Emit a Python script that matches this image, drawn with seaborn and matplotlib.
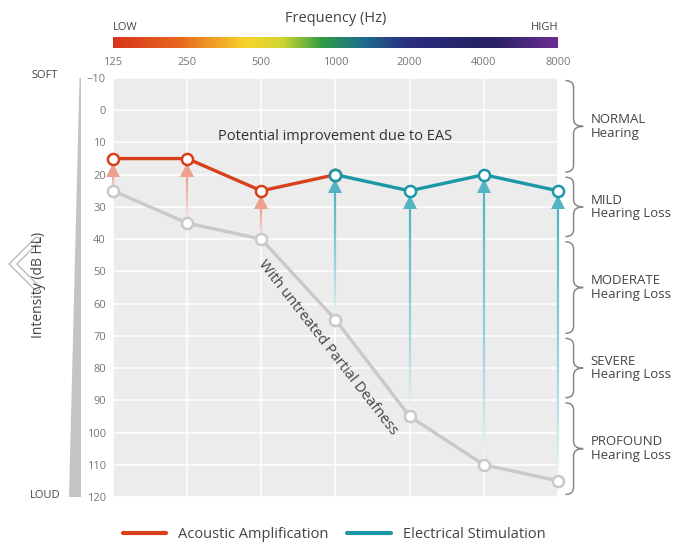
import numpy as np
import pandas as pd
import matplotlib
matplotlib.use("Agg")
import matplotlib.pyplot as plt
import seaborn as sns
from matplotlib.colors import LinearSegmentedColormap
from matplotlib.collections import LineCollection
from matplotlib.path import Path
from matplotlib.patches import PathPatch, Polygon
from matplotlib.lines import Line2D

# données de l'audiogramme
freqs = ["125", "250", "500", "1000", "2000", "4000", "8000"]
untreated = [25, 35, 40, 65, 95, 110, 115]
acoustic = [15, 15, 25, 20]          # 125 -> 1000
electric = [20, 25, 20, 25]          # 1000 -> 8000
y_ticks = list(range(-10, 121, 10))
bands = ["NORMAL\nHearing", "MILD\nHearing Loss", "MODERATE\nHearing Loss",
         "SEVERE\nHearing Loss", "PROFOUND\nHearing Loss"]
band_limits = [(-10, 20), (20, 40), (40, 70), (70, 90), (90, 120)]

RED = "#d8401c"
TEAL = "#1b97a8"
GREY = "#c9c9c9"
SALMON = "#eca08f"
LTEAL = "#52b5c3"

sns.set_theme(style="darkgrid", rc={"axes.facecolor": "#ececec",
                                    "grid.color": "white", "grid.linewidth": 1.1})
plt.rcParams["font.family"] = ["Open Sans", "DejaVu Sans"]

W, H = 674, 545
fig = plt.figure(figsize=(W / 100, H / 100), dpi=100)
ax = fig.add_axes([113 / W, 1 - 497 / H, 445 / W, 419 / H])

x_idx = np.arange(len(freqs))
df_un = pd.DataFrame({"x": x_idx, "db": untreated})
df_ac = pd.DataFrame({"x": x_idx[:4], "db": acoustic})
df_el = pd.DataFrame({"x": x_idx[3:], "db": electric})

mk = dict(marker="o", markersize=8, markerfacecolor="white", markeredgewidth=1.8,
          linewidth=2.4, clip_on=False)
sns.lineplot(data=df_un, x="x", y="db", ax=ax, color=GREY, markeredgecolor=GREY,
             zorder=3, **mk)

# flèches en dégradé
def grad_arrow(x, y0, y1, color):
    tip = y1 + 1.9
    base = tip + 3.0
    ys = np.linspace(y0, base, 40)
    segs = [[(x, ys[i]), (x, ys[i + 1])] for i in range(len(ys) - 1)]
    alphas = np.linspace(0.0, 1.0, len(segs)) ** 0.7
    cols = [matplotlib.colors.to_rgba(color, a) for a in alphas]
    ax.add_collection(LineCollection(segs, colors=cols, linewidths=1.6, zorder=2,
                                     clip_on=False))
    ax.plot([x], [tip + 1.7], marker="^", markersize=9.5, color=color,
            markeredgewidth=0, zorder=2, clip_on=False)

targets = acoustic[:3] + electric
for i in range(len(freqs)):
    grad_arrow(i, untreated[i], targets[i], SALMON if i < 3 else LTEAL)

sns.lineplot(data=df_el, x="x", y="db", ax=ax, color=TEAL, markeredgecolor=TEAL,
             zorder=4, **mk)
sns.lineplot(data=df_ac, x="x", y="db", ax=ax, color=RED, markeredgecolor=RED,
             zorder=5, **mk)
# le point 1000 Hz reste bleu
ax.plot([3], [acoustic[3]], marker="o", markersize=8, markerfacecolor="white",
        markeredgecolor=TEAL, markeredgewidth=1.8, zorder=6, clip_on=False)

ax.set_xlim(0, 6)
ax.set_ylim(120, -10)
ax.set_xticks(x_idx)
ax.set_xticklabels(freqs)
ax.set_yticks(y_ticks)
ax.xaxis.tick_top()
ax.tick_params(axis="both", length=0, labelsize=8, labelcolor="#777777")
ax.tick_params(axis="x", pad=7)
ax.tick_params(axis="y", pad=5)
ax.set_xlabel("")
ax.set_ylabel("")
for s in ax.spines.values():
    s.set_visible(False)

ax.text(3, 8.3, "Potential improvement due to EAS", ha="center", va="center",
        fontsize=10.5, color="#333333")
ax.text(2.89, 73.5, "With untreated Partial Deafness", ha="center", va="center",
        rotation=-52, fontsize=10.5, color="#444444", rotation_mode="anchor")

# accolades à droite
def brace(y1, y2):
    x0, x1, x2 = 6.1, 6.21, 6.34
    ym = (y1 + y2) / 2
    r = 2.2
    verts = [(x0, y1), (x1, y1), (x1, y1 + r),
             (x1, ym - r), (x1, ym), (x2, ym),
             (x1, ym), (x1, ym + r),
             (x1, y2 - r), (x1, y2), (x0, y2)]
    codes = [Path.MOVETO, Path.CURVE3, Path.CURVE3,
             Path.LINETO, Path.CURVE3, Path.CURVE3,
             Path.CURVE3, Path.CURVE3,
             Path.LINETO, Path.CURVE3, Path.CURVE3]
    ax.add_patch(PathPatch(Path(verts, codes), fill=False, edgecolor="#888888",
                           linewidth=1.1, clip_on=False))

for lab, (a, b) in zip(bands, band_limits):
    brace(a + 0.8, b - 0.8)
    ax.text(6.44, (a + b) / 2, lab, ha="left", va="center", fontsize=9.5,
            color="#444444", linespacing=1.05)

# barre de fréquences arc-en-ciel
cax = fig.add_axes([113 / W, 1 - 48 / H, 445 / W, 11 / H])
rainbow = LinearSegmentedColormap.from_list("freq", [
    (0.0, "#d9341c"), (0.15, "#e8681f"), (0.3, "#f7d42a"), (0.38, "#cfd531"),
    (0.47, "#2f9c45"), (0.56, "#1d6f8c"), (0.66, "#2a2f7f"), (0.85, "#262162"),
    (1.0, "#6b2d91")])
cax.imshow(np.linspace(0, 1, 256)[None, :], aspect="auto", cmap=rainbow)
cax.set_axis_off()

fig.text(336 / W, 1 - 18 / H, "Frequency (Hz)", ha="center", va="center",
         fontsize=10.5, color="#444444")
fig.text(113 / W, 1 - 27 / H, "LOW", ha="left", va="center", fontsize=8, color="#444444")
fig.text(558 / W, 1 - 27 / H, "HIGH", ha="right", va="center", fontsize=8, color="#444444")

# échelle d'intensité à gauche
fig.patches.append(Polygon([(81 / W, 1 - 78 / H), (81 / W, 1 - 497 / H),
                            (69 / W, 1 - 497 / H), (79.5 / W, 1 - 78 / H)],
                           closed=True, transform=fig.transFigure,
                           facecolor="#c4c4c4", edgecolor="none"))
fig.text(45 / W, 1 - 75 / H, "SOFT", ha="center", va="center", fontsize=8, color="#444444")
fig.text(45 / W, 1 - 495 / H, "LOUD", ha="center", va="center", fontsize=8, color="#444444")
fig.text(38 / W, 1 - 285 / H, "Intensity (dB HL)", ha="center", va="center",
         rotation=90, fontsize=10, color="#444444")
chev_x = [37 / W, 13 / W, 37 / W]
chev_y = [1 - 240 / H, 1 - 264 / H, 1 - 288 / H]
fig.add_artist(Line2D(chev_x, chev_y, transform=fig.transFigure, color="#bbbbbb",
                      linewidth=5, solid_joinstyle="miter"))
fig.add_artist(Line2D(chev_x, chev_y, transform=fig.transFigure, color="white",
                      linewidth=3, solid_joinstyle="miter"))

# légende
handles = [Line2D([], [], color=RED, linewidth=3), Line2D([], [], color=TEAL, linewidth=3)]
fig.legend(handles, ["Acoustic Amplification", "Electrical Stimulation"],
           loc="center", bbox_to_anchor=(334 / W, 1 - 535 / H), ncol=2, frameon=False,
           fontsize=10.5, handlelength=3.0, columnspacing=1.3, handletextpad=0.8,
           labelcolor="#444444")

fig.savefig("out.png", dpi=100, facecolor="white")
